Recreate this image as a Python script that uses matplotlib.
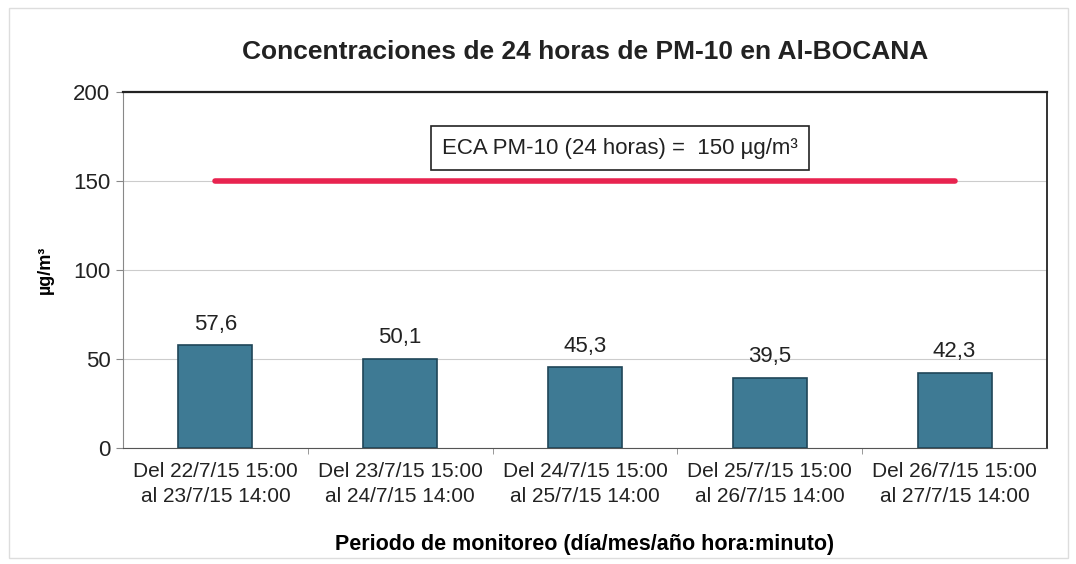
import numpy as np
import matplotlib.pyplot as plt
from matplotlib.patches import Rectangle

plt.rcParams['font.family'] = ['Liberation Sans', 'DejaVu Sans']

periodos = ['Del 22/7/15 15:00\nal 23/7/15 14:00',
            'Del 23/7/15 15:00\nal 24/7/15 14:00',
            'Del 24/7/15 15:00\nal 25/7/15 14:00',
            'Del 25/7/15 15:00\nal 26/7/15 14:00',
            'Del 26/7/15 15:00\nal 27/7/15 14:00']
pm10 = [57.6, 50.1, 45.3, 39.5, 42.3]
eca = [150, 150, 150, 150, 150]
yticks = [0, 50, 100, 150, 200]

fig = plt.figure(figsize=(10.76, 5.64), dpi=100)
ax = fig.add_axes([0.1143, 0.2057, 0.8587, 0.6312])

x = np.arange(len(periodos))
ax.bar(x, pm10, width=0.4, color='#3e7a94', edgecolor='#1f4658', linewidth=1.2, zorder=3)
for xi, v in zip(x, pm10):
    ax.text(xi, v + 6, f'{v:.1f}'.replace('.', ','), ha='center', va='bottom',
            fontsize=16, color='#222222')

ax.plot(x, eca, color='#e8234f', linewidth=4, solid_capstyle='round', zorder=4)

ax.text(2.19, 168.5, 'ECA PM-10 (24 horas) =  150 µg/m³', ha='center', va='center',
        fontsize=16, color='#222222',
        bbox=dict(boxstyle='square,pad=0.5', facecolor='white', edgecolor='#222222', linewidth=1.2))

ax.set_xlim(-0.5, 4.5)
ax.set_ylim(0, 200)
ax.set_yticks(yticks)
ax.set_yticklabels([str(t) for t in yticks], fontsize=16, color='#222222')
ax.set_xticks(x)
ax.set_xticklabels(periodos, fontsize=15, color='#222222', linespacing=1.4)
ax.set_xticks(np.arange(0.5, 4.5, 1), minor=True)
ax.tick_params(axis='x', which='major', length=0, pad=10)
ax.tick_params(axis='x', which='minor', length=4, color='#888888')
ax.tick_params(axis='y', length=5, color='#888888', pad=4)
ax.yaxis.grid(True, color='#cccccc', linewidth=0.8, zorder=0)
ax.set_axisbelow(True)

ax.spines['top'].set_color('#222222')
ax.spines['top'].set_linewidth(1.6)
ax.spines['right'].set_color('#333333')
ax.spines['right'].set_linewidth(1.4)
ax.spines['left'].set_color('#888888')
ax.spines['bottom'].set_color('#555555')

ax.set_ylabel('µg/m³', fontsize=13, fontweight='bold', labelpad=14)
ax.set_xlabel('Periodo de monitoreo (día/mes/año hora:minuto)', fontsize=15.5,
              fontweight='bold', labelpad=20)
ax.set_title('Concentraciones de 24 horas de PM-10 en Al-BOCANA', fontsize=19,
             fontweight='bold', pad=24, color='#222222')

fig.patches.append(Rectangle((0.008, 0.01), 0.985, 0.975, transform=fig.transFigure,
                             fill=False, edgecolor='#dddddd', linewidth=1))

fig.savefig('out.png', dpi=100)
